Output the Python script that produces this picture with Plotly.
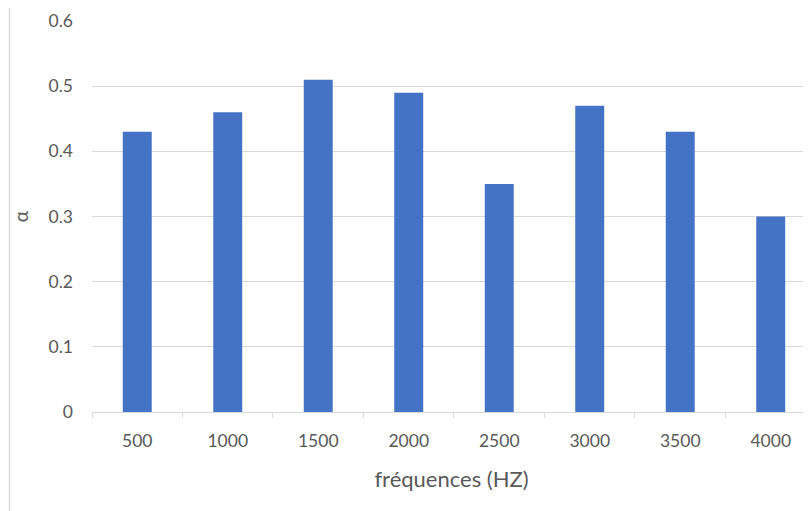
import plotly.graph_objects as go

frequencies = ["500", "1000", "1500", "2000", "2500", "3000", "3500", "4000"]
alpha_values = [0.43, 0.46, 0.51, 0.49, 0.35, 0.47, 0.43, 0.30]
y_ticks = [0, 0.1, 0.2, 0.3, 0.4, 0.5, 0.6]
y_tick_labels = ["0", "0.1", "0.2", "0.3", "0.4", "0.5", "0.6"]

FONT = "Lato"
TXT = "#595959"
GRID = "#d9d9d9"

# page body has an 8px margin, so the figure is placed at (8, 8)
W, H = 803, 503
L, R, T, B = 84, 0, 13, 99
PW, PH = W - L - R, H - T - B

fig = go.Figure(
    go.Bar(
        x=frequencies,
        y=alpha_values,
        marker=dict(color="#4472C4", line=dict(width=0)),
        width=0.32,
    )
)

fig.update_layout(
    width=W,
    height=H,
    margin=dict(l=L, r=R, t=T, b=B, autoexpand=False),
    paper_bgcolor="white",
    plot_bgcolor="white",
    showlegend=False,
    font=dict(family=FONT, color=TXT, size=17),
    xaxis=dict(
        type="category",
        range=[-0.5, 7.445],
        showgrid=False,
        showline=True,
        linecolor=GRID,
        linewidth=1,
        ticks="outside",
        tickson="boundaries",
        ticklen=5,
        tickcolor=GRID,
        tickfont=dict(family=FONT, size=17.5, color=TXT),
        ticklabelstandoff=13,
        title=dict(text="fréquences (HZ)", font=dict(family=FONT, size=22, color=TXT), standoff=21),
        zeroline=False,
        automargin=False,
    ),
    yaxis=dict(
        range=[0, 0.6],
        tickvals=y_ticks,
        ticktext=y_tick_labels,
        showgrid=True,
        gridcolor=GRID,
        gridwidth=1,
        zeroline=False,
        showline=False,
        ticks="",
        tickfont=dict(family=FONT, size=17.5, color=TXT),
        ticklabelstandoff=18,
        title=dict(text="α", font=dict(family=FONT, size=19, color=TXT), standoff=14),
        automargin=False,
    ),
    shapes=[
        dict(
            type="line",
            xref="paper",
            yref="paper",
            x0=(1.5 - L) / PW,
            x1=(1.5 - L) / PW,
            y0=-B / PH,
            y1=1 + T / PH,
            line=dict(color=GRID, width=1.5),
        )
    ],
)

fig.write_html("out.html")
